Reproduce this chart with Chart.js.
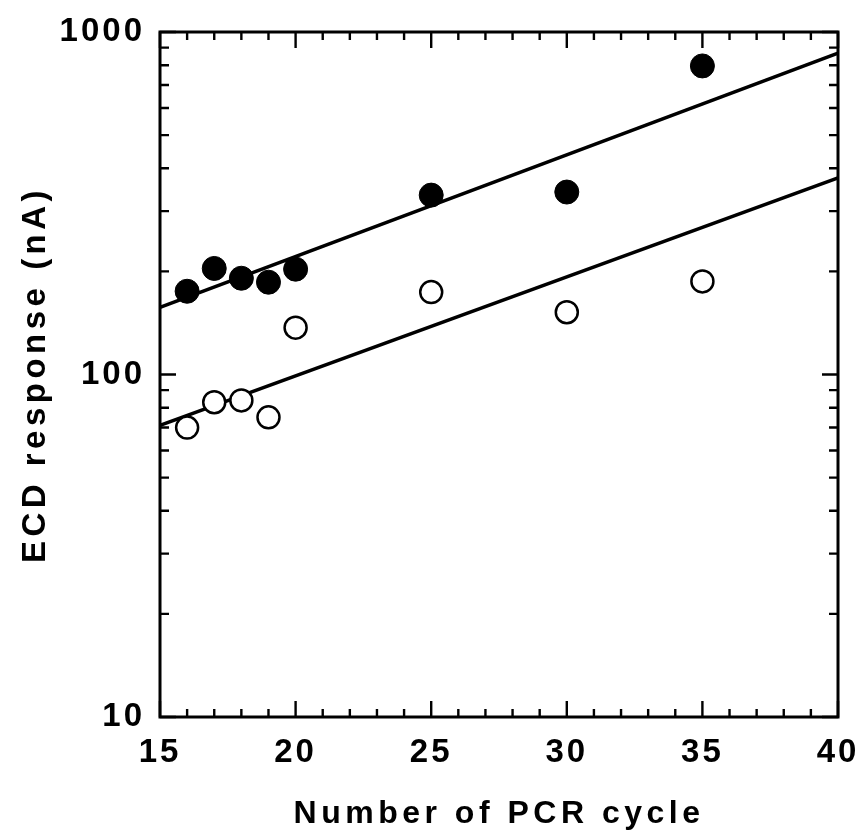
<!DOCTYPE html>
<html><head><meta charset="utf-8">
<script src="https://cdn.jsdelivr.net/npm/chart.js@4"></script>
<style>html,body{margin:0;background:#fff}</style></head>
<body><canvas id="c" width="861" height="830"></canvas>
<script>
const cycles = [16, 17, 18, 19, 20, 25, 30, 35];
const filledResp = [175, 204, 191, 186, 203, 334, 341, 796];
const openResp = [70, 83, 84, 75, 137, 174, 152, 187];
const fitX = [15, 40];
const filledFit = [157, 868];
const openFit = [71, 375];
const xTickLabels = [15, 20, 25, 30, 35, 40];
const xMinorTicks = [16, 17, 18, 19, 21, 22, 23, 24, 26, 27, 28, 29, 31, 32, 33, 34, 36, 37, 38, 39];
const yTickLabels = [10, 100, 1000];
const yMinorTicks = [20, 30, 40, 50, 60, 70, 80, 90, 200, 300, 400, 500, 600, 700, 800, 900];

const FONT = "'Liberation Sans', Arial, Helvetica, sans-serif";

// letter-spaced axis text, as in the original typesetting
const origLabels = Chart.Scale.prototype.drawLabels;
Chart.Scale.prototype.drawLabels = function (ca) {
  const c = this.ctx; c.save(); c.letterSpacing = '3px'; origLabels.call(this, ca); c.restore();
};
const origTitle = Chart.Scale.prototype.drawTitle;
Chart.Scale.prototype.drawTitle = function () {
  const c = this.ctx; c.save(); c.letterSpacing = '4.5px'; origTitle.call(this); c.restore();
};

const pts = (xs, ys) => xs.map((x, i) => ({ x: x, y: ys[i] }));

const framePlugin = {
  id: 'frame',
  afterDraw(chart) {
    const { ctx, chartArea: a, scales: { x, y } } = chart;
    ctx.save();
    ctx.strokeStyle = '#000';
    ctx.lineWidth = 3;
    ctx.strokeRect(a.left, a.top, a.right - a.left, a.bottom - a.top);
    ctx.lineWidth = 2.4;
    ctx.beginPath();
    const xt = (v, len) => {
      const px = x.getPixelForValue(v);
      ctx.moveTo(px, a.bottom); ctx.lineTo(px, a.bottom - len);
      ctx.moveTo(px, a.top); ctx.lineTo(px, a.top + len);
    };
    const yt = (v, len) => {
      const py = y.getPixelForValue(v);
      ctx.moveTo(a.left, py); ctx.lineTo(a.left + len, py);
      ctx.moveTo(a.right, py); ctx.lineTo(a.right - len, py);
    };
    xMinorTicks.forEach(v => xt(v, 8));
    xTickLabels.forEach(v => xt(v, 16));
    yMinorTicks.forEach(v => yt(v, 9));
    yTickLabels.forEach(v => yt(v, 16));
    ctx.stroke();
    ctx.restore();
  }
};

new Chart(document.getElementById('c'), {
  type: 'scatter',
  data: {
    datasets: [
      { data: pts(fitX, filledFit), showLine: true, borderColor: '#000', borderWidth: 3.5, pointRadius: 0, order: 3 },
      { data: pts(fitX, openFit), showLine: true, borderColor: '#000', borderWidth: 3.5, pointRadius: 0, order: 3 },
      { data: pts(cycles, filledResp), pointRadius: 12, pointBackgroundColor: '#000', pointBorderColor: '#000', pointBorderWidth: 1, order: 1 },
      { data: pts(cycles, openResp), pointRadius: 11, pointBackgroundColor: '#fff', pointBorderColor: '#000', pointBorderWidth: 2.5, order: 1 }
    ]
  },
  options: {
    responsive: false,
    animation: false,
    devicePixelRatio: 1,
    layout: { padding: { left: 0, right: 23, top: 32, bottom: 0 } },
    plugins: { legend: { display: false }, tooltip: { enabled: false } },
    scales: {
      x: {
        type: 'linear', min: 15, max: 40,
        afterBuildTicks: s => { s.ticks = xTickLabels.map(v => ({ value: v })); },
        afterFit: s => { s.height = 113; s.paddingLeft = 0; s.paddingRight = 0; },
        grid: { display: false }, border: { display: false },
        ticks: { color: '#000', padding: 8, font: { family: FONT, size: 33, weight: 'bold' }, maxRotation: 0, autoSkip: false, callback: v => String(v) },
        title: { display: true, text: 'Number of PCR cycle', color: '#000', padding: { top: 0, bottom: 0 }, font: { family: FONT, size: 32, weight: 'bold', lineHeight: 1.0 } }
      },
      y: {
        type: 'logarithmic', min: 10, max: 1000,
        afterBuildTicks: s => { s.ticks = yTickLabels.map(v => ({ value: v })); },
        afterFit: s => { s.width = 160; s.paddingTop = 0; s.paddingBottom = 0; },
        grid: { display: false }, border: { display: false },
        ticks: { color: '#000', padding: 7, font: { family: FONT, size: 33, weight: 'bold' }, autoSkip: false, callback: v => String(v) },
        title: { display: true, text: 'ECD response (nA)', color: '#000', padding: { top: 16, bottom: 0 }, font: { family: FONT, size: 33, weight: 'bold', lineHeight: 1.2 } }
      }
    }
  },
  plugins: [framePlugin]
});
</script>
</body></html>
